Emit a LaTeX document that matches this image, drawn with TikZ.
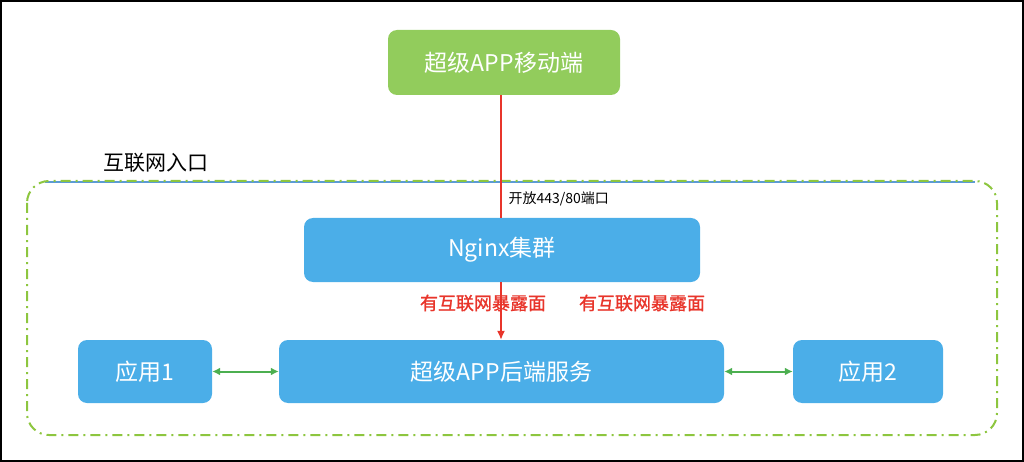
\documentclass[tikz,border=0pt]{standalone}
\usepackage{fontspec}
\setmainfont{Noto Sans CJK SC}
\newfontfamily\cjkmed[FakeBold=1.2]{Noto Sans CJK SC}
\usetikzlibrary{arrows.meta}
\definecolor{bx}{HTML}{4BAEE8}
\definecolor{gr}{HTML}{92CC5C}
\definecolor{gd}{HTML}{8DC63F}
\definecolor{ln}{HTML}{5B9BD5}
\definecolor{rd}{HTML}{E8352B}
\definecolor{ga}{HTML}{4CAF50}
\begin{document}
\begin{tikzpicture}[x=1pt,y=-1pt,
  box/.style={fill=bx,rounded corners=9pt,text=white,font=\fontsize{23}{26}\selectfont},
  ga/.style={draw=ga,line width=2pt,{Latex[length=8pt,width=8pt]}-{Latex[length=8pt,width=8pt]}},
  rl/.style={font=\cjkmed\fontsize{18}{21}\selectfont,text=rd}]
\useasboundingbox (0,0) rectangle (1024,462);
\draw[line width=1.5pt] (1,1) rectangle (1023,461);
\coordinate (la) at (45,182); \coordinate (lb) at (975,182);
\draw[ln,line width=2pt] (la) -- (lb);
\draw[gd,line width=2pt,dash pattern=on 10pt off 5pt on 2pt off 5pt,rounded corners=22pt] (27,181) rectangle (997,435);
\node[anchor=west,font=\fontsize{21}{24}\selectfont] (inet) at (100,163) {互联网入口};
\node[fill=gr,rounded corners=9pt,text=white,font=\fontsize{23}{26}\selectfont,minimum width=232pt,minimum height=65pt] (app) at (504,62.5) {超级APP移动端};
\node[box,minimum width=396pt,minimum height=64pt] (ng) at (502,250) {Nginx集群};
\node[box,minimum width=445pt,minimum height=63pt] (be) at (501.5,371.5) {超级APP后端服务};
\node[box,minimum width=134pt,minimum height=63pt] (a1) at (145,371.5) {应用1};
\node[box,minimum width=150pt,minimum height=63pt] (a2) at (868,371.5) {应用2};
\draw[rd,line width=1.5pt] (app.south -| 501,0) -- (ng.north -| 501,0);
\draw[rd,line width=1.5pt,-{Latex[length=9pt,width=8pt]}] (ng.south -| 501,0) -- (be.north -| 501,0);
\node[anchor=west,font=\fontsize{14}{17}\selectfont] (open) at (505,199) {开放443/80端口};
\node[rl] (r1) at (483,303) {有互联网暴露面};
\node[rl] (r2) at (642,303) {有互联网暴露面};
\draw[ga] (a1.east) -- (be.west);
\draw[ga] (be.east) -- (a2.west);
\end{tikzpicture}
\end{document}
